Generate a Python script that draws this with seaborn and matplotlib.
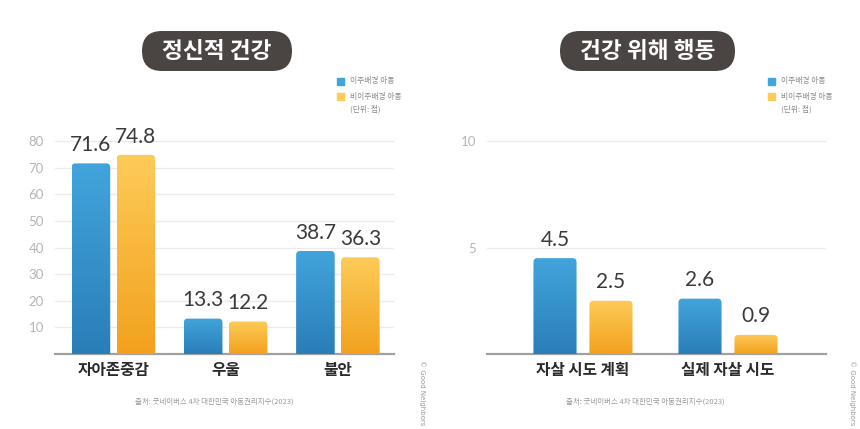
import numpy as np
import pandas as pd
import seaborn as sns
import matplotlib.pyplot as plt
from matplotlib.patches import FancyBboxPatch
from matplotlib.colors import LinearSegmentedColormap

groups = ["이주배경 아동", "비이주배경 아동"]

mental_cats = ["자아존중감", "우울", "불안"]
mental_migrant = [71.6, 13.3, 38.7]
mental_native = [74.8, 12.2, 36.3]

risk_cats = ["자살 시도 계획", "실제 자살 시도"]
risk_migrant = [4.5, 2.6]
risk_native = [2.5, 0.9]

titles = ["정신적 건강", "건강 위해 행동"]
source = "출처: 굿네이버스 4차 대한민국 아동권리지수(2023)"
unit = "(단위: 점)"

blue_top, blue_bot = "#42A4DC", "#2A7EB8"
yel_top, yel_bot = "#FDCB58", "#F2A11E"

sns.set_theme(style="white")
plt.rcParams["font.family"] = ["Noto Sans CJK KR", "DejaVu Sans"]

df_mental = pd.DataFrame({
    "cat": mental_cats * 2,
    "value": mental_migrant + mental_native,
    "group": [groups[0]] * 3 + [groups[1]] * 3,
})
df_risk = pd.DataFrame({
    "cat": risk_cats * 2,
    "value": risk_migrant + risk_native,
    "group": [groups[0]] * 2 + [groups[1]] * 2,
})

W, H = 860, 429
fig = plt.figure(figsize=(W / 100, H / 100), dpi=100)
fig.patch.set_facecolor("white")


def px_axes(x0, x1, y_top, y_bot):
    return fig.add_axes([x0 / W, 1 - y_bot / H, (x1 - x0) / W, (y_bot - y_top) / H])


def gradient_bars(ax, tops, bots, radius_px=4):
    xl, yl = ax.get_xlim(), ax.get_ylim()
    bb = ax.get_window_extent()
    xu = (xl[1] - xl[0]) / bb.width
    yu = (yl[1] - yl[0]) / bb.height
    r = radius_px * xu
    for cont, top, bot in zip(ax.containers, tops, bots):
        cmap = LinearSegmentedColormap.from_list("g", [bot, top])
        for bar in cont:
            x, w, h = bar.get_x(), bar.get_width(), bar.get_height()
            bar.set_visible(False)
            clip = FancyBboxPatch((x, -radius_px * yu), w, h + radius_px * yu,
                                  boxstyle=f"round,pad=0,rounding_size={r}",
                                  mutation_aspect=yu / xu, transform=ax.transData)
            im = ax.imshow(np.linspace(0, 1, 100).reshape(-1, 1), cmap=cmap,
                           extent=[x, x + w, 0, h], origin="lower",
                           aspect="auto", zorder=3)
            im.set_clip_path(clip)
    ax.set_xlim(xl)
    ax.set_ylim(yl)


def style_axes(ax, ticks, xlim, ylim):
    ax.set_xlim(xlim)
    ax.set_ylim(ylim)
    ax.set_yticks(ticks)
    ax.set_yticklabels([str(t) for t in ticks])
    ax.grid(axis="y", color="#ebebeb", linewidth=1)
    ax.set_axisbelow(True)
    for s in ["top", "right", "left"]:
        ax.spines[s].set_visible(False)
    ax.spines["bottom"].set_color("#a0a0a0")
    ax.spines["bottom"].set_linewidth(1.6)
    ax.tick_params(axis="y", length=0, pad=8, labelsize=9.5, labelcolor="#b5b5b5")
    ax.tick_params(axis="x", length=0, pad=6)
    for lab in ax.get_yticklabels():
        lab.set_family(["Lato", "DejaVu Sans"])
    for lab in ax.get_xticklabels():
        lab.set_fontsize(11.3)
        lab.set_fontweight("bold")
        lab.set_color("#2b2b2b")
    ax.set_xlabel("")
    ax.set_ylabel("")
    ax.set_facecolor("white")


ax1 = px_axes(55, 394, 127.7, 354)
sns.barplot(data=df_mental, x="cat", y="value", hue="group", ax=ax1,
            palette=[blue_top, yel_top], width=0.8, gap=0.14, legend=False)
style_axes(ax1, [10, 20, 30, 40, 50, 60, 70, 80], (-0.52, 2.5), (0, 85))

ax2 = px_axes(487, 826, 127.7, 354)
sns.barplot(data=df_risk, x="cat", y="value", hue="group", ax=ax2,
            palette=[blue_top, yel_top], width=0.772, gap=0.23, legend=False)
style_axes(ax2, [5, 10], (-0.662, 1.676), (0, 10.625))

for ax in (ax1, ax2):
    for cont in ax.containers:
        ax.bar_label(cont, fmt="%.1f", padding=6, fontsize=15, color="#3a3a3a",
                     family=["Lato", "DejaVu Sans"], fontweight="normal")
    gradient_bars(ax, [blue_top, yel_top], [blue_bot, yel_bot])

# overlay in pixel coordinates for pills, legends and notes
ov = fig.add_axes([0, 0, 1, 1], zorder=5)
ov.set_xlim(0, W)
ov.set_ylim(H, 0)
ov.axis("off")

pills = [(142, 292), (560, 735)]
for (x0, x1), t in zip(pills, titles):
    ov.add_patch(FancyBboxPatch((x0, 31), x1 - x0, 40,
                                boxstyle="round,pad=0,rounding_size=20",
                                facecolor="#4a4442", edgecolor="none"))
    ov.text((x0 + x1) / 2, 52, t, ha="center", va="center", color="white",
            fontsize=16.3, fontweight="bold")

for lx, sx, cx in [(337, 214, 422), (768, 645, 852)]:
    ov.add_patch(plt.Rectangle((lx, 78), 7, 7, color=blue_top))
    ov.add_patch(plt.Rectangle((lx, 93), 7, 7, color=yel_top))
    ov.text(lx + 13, 81.5, groups[0], fontsize=5.6, color="#8a8a8a", va="center")
    ov.text(lx + 13, 96.5, groups[1], fontsize=5.6, color="#8a8a8a", va="center")
    ov.text(lx + 13, 109.5, unit, fontsize=5.6, color="#8a8a8a", va="center")
    ov.text(sx, 402, source, fontsize=5.4, color="#9a9a9a", ha="center", va="center")
    ov.text(cx, 393, "© Good Neighbors", fontsize=5, color="#9a9a9a", rotation=-90,
            ha="center", va="center", family=["DejaVu Sans"])

plt.savefig("out.png", dpi=100, facecolor="white")
